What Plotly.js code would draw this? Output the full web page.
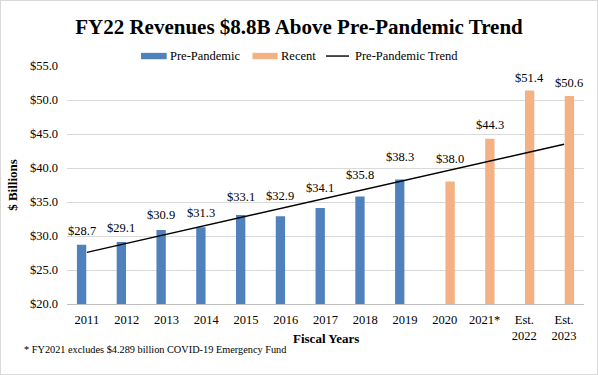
<!DOCTYPE html>
<html>
<head>
<meta charset="utf-8">
<script src="https://cdn.plot.ly/plotly-3.0.1.min.js"></script>
<style>
  html, body { margin: 0; padding: 0; background: #fff; }
  #frame { position: absolute; left: 0; top: 0; width: 598px; height: 375px; box-sizing: border-box; border: 1px solid #d9d9d9; }
  #chart { position: absolute; left: 0; top: 0; width: 596px; height: 373px; }
</style>
</head>
<body>
<div id="frame"><div id="chart"></div></div>
<script>
// ---- data ----
const categories = ["2011","2012","2013","2014","2015","2016","2017","2018","2019","2020","2021*","Est.<br>2022","Est.<br>2023"];
const prePandemic = [28.7, 29.1, 30.9, 31.3, 33.1, 32.9, 34.1, 35.8, 38.3, null, null, null, null];
const recent      = [null, null, null, null, null, null, null, null, null, 38.0, 44.3, 51.4, 50.6];
const trendCategories = ["2011", "Est.<br>2023"];
const trendValues = [27.6, 43.5];
const yTickVals = [20, 25, 30, 35, 40, 45, 50, 55];
const yTickText = ["$20.0","$25.0","$30.0","$35.0","$40.0","$45.0","$50.0","$55.0"];

// ---- style: how far (px) each data label sits above its bar (labels nudged clear of the trend line) ----
const labelLiftPx = [14, 14, 14.4, 14, 18.3, 20, 20.5, 21.6, 23, 22.6, 13.6, 12.8, 12.8];

// ---- layout helpers (page pixels -> paper coords) ----
const W = 596, H = 373;
const M = {l: 66, r: 13, t: 64.5, b: 69.5};
const PW = W - M.l - M.r, PH = H - M.t - M.b;
const px = x => (x - 1 - M.l) / PW;
const py = y => (H - M.b - (y - 1)) / PH;

const serif = "Liberation Serif";
const labelFont = () => ({family: serif, size: 12.5, color: "#000"});

const traces = [
  {type: "bar", name: "Pre-Pandemic", x: categories, y: prePandemic,
   marker: {color: "#4F81BD"}, showlegend: false, hoverinfo: "y"},
  {type: "bar", name: "Recent", x: categories, y: recent,
   marker: {color: "#F4B183"}, showlegend: false, hoverinfo: "y"},
  {type: "scatter", mode: "lines", name: "Pre-Pandemic Trend", x: trendCategories, y: trendValues,
   line: {color: "#000", width: 1.4}, showlegend: false, hoverinfo: "y"}
];

// data labels built from the series arrays (x = category index on the category axis)
const dataLabels = [];
categories.forEach((c, i) => {
  [[prePandemic, -5.3], [recent, 5.3]].forEach(([arr, dx]) => {
    const v = arr[i];
    if (v === null || v === undefined) return;
    dataLabels.push({text: "$" + v.toFixed(1), xref: "x", yref: "y", x: i, y: v,
      xshift: dx, yshift: labelLiftPx[i], xanchor: "center", yanchor: "middle",
      showarrow: false, font: labelFont()});
  });
});

const legendY = 55.5;
const layout = {
  width: W, height: H,
  margin: M,
  paper_bgcolor: "#fff", plot_bgcolor: "#fff",
  barmode: "group", bargap: 0.467, bargroupgap: 0.12,
  font: {family: serif, color: "#000", size: 12.5},
  title: {text: "<b>FY22 Revenues $8.8B Above Pre-Pandemic Trend</b>",
          font: {family: serif, size: 21, color: "#000"},
          x: 0.5, xref: "container", xanchor: "center",
          y: 1 - 25.5 / H, yref: "container", yanchor: "middle"},
  xaxis: {type: "category", categoryorder: "array", categoryarray: categories,
          range: [-0.5, categories.length - 0.5],
          showgrid: false, showline: true, linecolor: "#bfbfbf", linewidth: 1,
          ticks: "", tickfont: labelFont(), ticklabelstandoff: 4,
          fixedrange: true},
  yaxis: {range: [20, 55], tickvals: yTickVals, ticktext: yTickText,
          showgrid: true, gridcolor: "#d9d9d9", gridwidth: 1, zeroline: false,
          showline: false, ticks: "", tickfont: labelFont(), ticklabelstandoff: 8,
          title: {text: "<b>$ Billions</b>", font: {family: serif, size: 13, color: "#000"}, standoff: 9},
          fixedrange: true},
  shapes: [
    {type: "rect", xref: "paper", yref: "paper", x0: px(141), x1: px(166.7), y0: py(58.7), y1: py(52.3),
     fillcolor: "#4F81BD", line: {width: 0}},
    {type: "rect", xref: "paper", yref: "paper", x0: px(252.5), x1: px(277.6), y0: py(58.7), y1: py(52.3),
     fillcolor: "#F4B183", line: {width: 0}},
    {type: "line", xref: "paper", yref: "paper", x0: px(326), x1: px(349), y0: py(legendY), y1: py(legendY),
     line: {color: "#000", width: 1.4}}
  ],
  annotations: [
    {text: "Pre-Pandemic", xref: "paper", yref: "paper", x: px(168), y: py(legendY), xanchor: "left", yanchor: "middle",
     showarrow: false, font: labelFont()},
    {text: "Recent", xref: "paper", yref: "paper", x: px(279), y: py(legendY), xanchor: "left", yanchor: "middle",
     showarrow: false, font: labelFont()},
    {text: "Pre-Pandemic Trend", xref: "paper", yref: "paper", x: px(353), y: py(legendY), xanchor: "left", yanchor: "middle",
     showarrow: false, font: labelFont()},
    {text: "<b>Fiscal Years</b>", xref: "paper", yref: "paper", x: 0.5, y: py(339), xanchor: "center", yanchor: "middle",
     showarrow: false, font: {family: serif, size: 13, color: "#000"}},
    {text: "* FY2021 excludes $4.289 billion COVID-19 Emergency Fund", xref: "paper", yref: "paper",
     x: px(22), y: py(350), xanchor: "left", yanchor: "middle", showarrow: false,
     font: {family: serif, size: 10.3, color: "#000"}}
  ].concat(dataLabels)
};

Plotly.newPlot("chart", traces, layout, {displayModeBar: false, staticPlot: true});
</script>
</body>
</html>
